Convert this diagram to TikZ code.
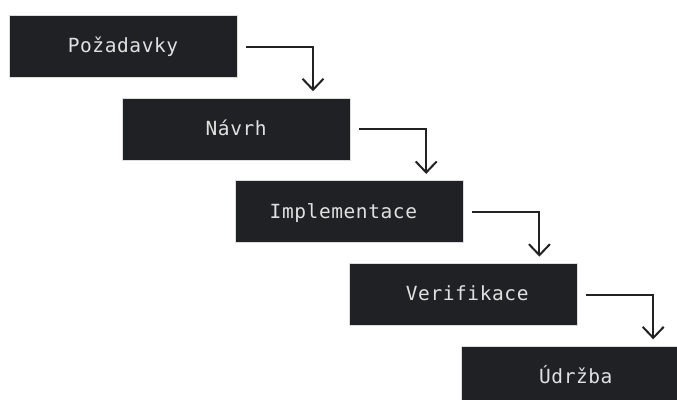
\documentclass[tikz,border=0pt]{standalone}
\usepackage{fontspec}
\usetikzlibrary{arrows.meta,calc}
\newfontfamily\monof[LetterSpace=3]{DejaVu Sans Mono}
\definecolor{boxfill}{HTML}{202124}
\definecolor{boxline}{HTML}{DCDCDC}
\definecolor{boxtext}{HTML}{E0E0E0}
\definecolor{arrowcol}{HTML}{222222}
\tikzset{
  stagebox/.style={rectangle, fill=boxfill, draw=boxline, line width=1pt,
    minimum width=228pt, minimum height=62pt, inner sep=0pt, outer sep=0pt,
    text=boxtext, font=\monof\fontsize{19.5pt}{19.5pt}\selectfont,
    text height=12.4pt, text depth=0pt},
  flowarrow/.style={draw=arrowcol, line width=2pt,
    -{Straight Barb[length=11pt,width=21pt]}}
}
\begin{document}
\begin{tikzpicture}[x=1pt,y=1pt]
\useasboundingbox (0,0) rectangle (677,-399);
\clip (0,0) rectangle (677,-399);
\fill[white] (0,0) rectangle (677,-399);
\node[stagebox] (s1) at (123,-46.5) {Požadavky};
\node[stagebox] (s2) at (236.2,-129.2) {Návrh};
\node[stagebox] (s3) at (349.4,-211.9) {\kern-12pt Implementace};
\node[stagebox] (s4) at (463.2,-294.6) {Verifikace\kern-8pt};
\node[stagebox] (s5) at (575.8,-377.3) {Údržba};
\foreach \a/\b in {s1/s2,s2/s3,s3/s4,s4/s5}{
  \draw[flowarrow] ([xshift=9pt]\a.east) -| ($(\a.east |- \b.north)+(76pt,7pt)$);
}
\end{tikzpicture}
\end{document}
